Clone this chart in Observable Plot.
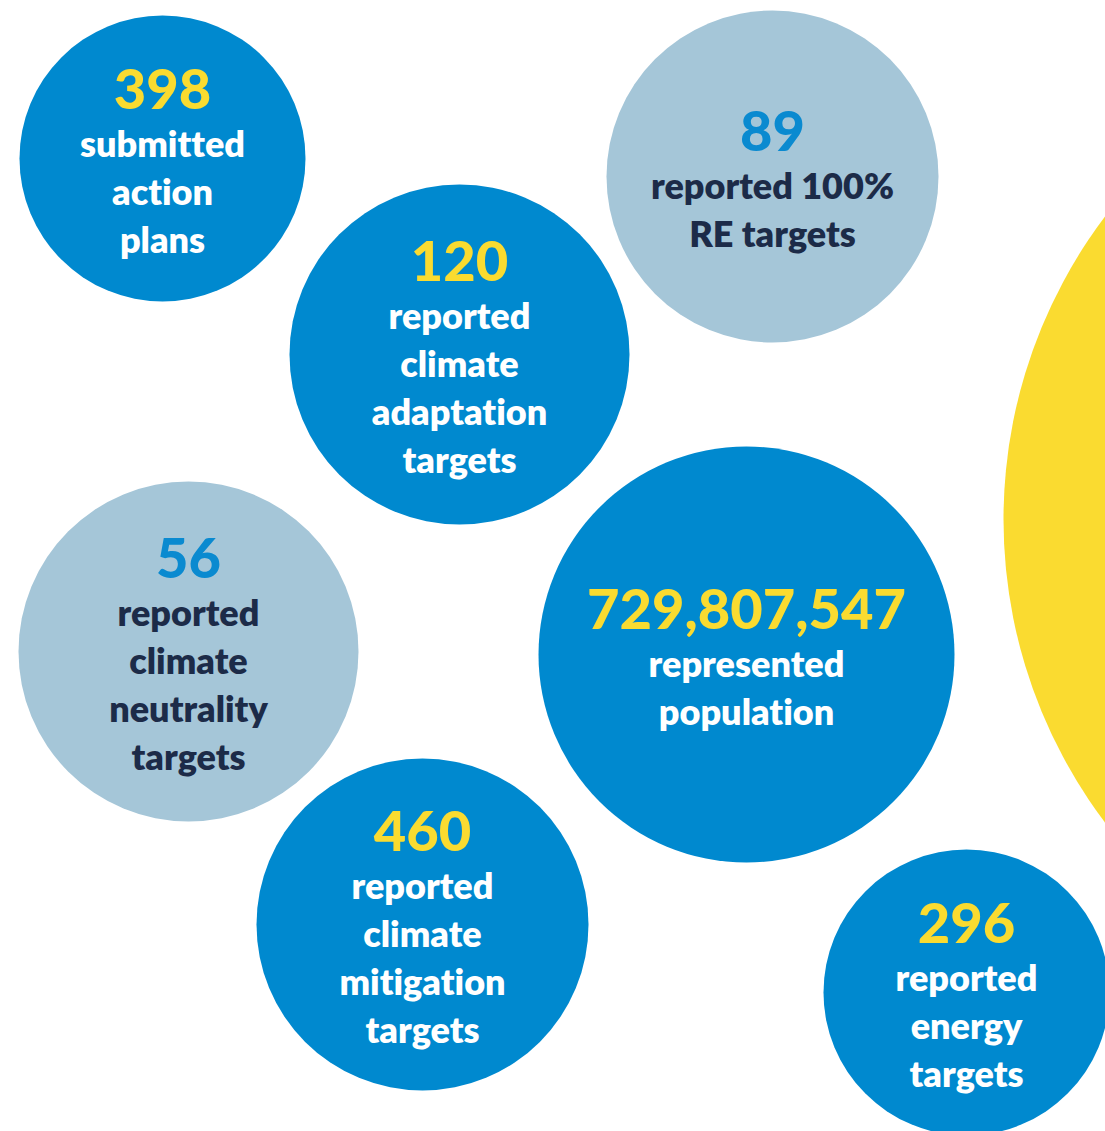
<!DOCTYPE html>
<html>
<head>
<meta charset="utf-8">
<script src="https://cdn.jsdelivr.net/npm/d3@7"></script>
<script src="https://cdn.jsdelivr.net/npm/@observablehq/plot@0.6"></script>
<style>
  html, body { margin: 0; padding: 0; background: #ffffff; }
  #chart svg { display: block; }
  #chart svg text { font-variant-ligatures: none; font-feature-settings: "liga" 0, "clig" 0; }
</style>
</head>
<body>
<div id="chart"></div>
<script>
// ---- data ----
const figures = ["398", "89", "120", "", "56", "729,807,547", "460", "296"];
const descriptions = [
  ["submitted", "action", "plans"],
  ["reported 100%", "RE targets"],
  ["reported", "climate", "adaptation", "targets"],
  [],
  ["reported", "climate", "neutrality", "targets"],
  ["represented", "population"],
  ["reported", "climate", "mitigation", "targets"],
  ["reported", "energy", "targets"]
];
const tones = ["dark", "light", "dark", "accent", "light", "dark", "dark", "dark"];

// ---- layout (bubble centres and radii, in page pixels) ----
const bubbleX = [162, 772, 459, 1506, 188, 746, 422, 966];
const bubbleY = [158, 176, 354, 519, 651, 654, 924, 992];
const bubbleR = [143, 166, 170, 503, 170, 208, 166, 143];

// ---- styles ----
const fillByTone = {dark: "#0089cf", light: "#a5c6d8", accent: "#fadb30"};
const numberColorByTone = {dark: "#fadb30", light: "#0a8ad0", accent: "#0089cf"};
const textColorByTone = {dark: "#ffffff", light: "#1c2b48", accent: "#1c2b48"};

const W = 1105, H = 1131;

const bubbles = figures.map((f, i) => ({
  figure: f, lines: descriptions[i], tone: tones[i],
  x: bubbleX[i], y: bubbleY[i], r: bubbleR[i]
}));

const blockTop = b => b.y + 8 - (54 + 48 * (b.lines.length - 1)) / 2;
const numberRows = bubbles.filter(b => b.figure).map(b => ({
  text: b.figure, tone: b.tone, x: b.x, y: blockTop(b)
}));
const lineRows = bubbles.flatMap(b =>
  b.lines.map((t, j) => ({text: t, tone: b.tone, x: b.x, y: blockTop(b) + 54 + 48 * j}))
);

const plot = Plot.plot({
  width: W, height: H,
  margin: 0,
  x: {domain: [0, W], range: [0, W], axis: null},
  y: {domain: [0, H], range: [0, H], axis: null},
  r: {type: "identity"},
  style: {fontFamily: "Lato, 'Open Sans', sans-serif", background: "#ffffff"},
  marks: [
    Plot.dot(bubbles, {x: "x", y: "y", r: "r", fill: d => fillByTone[d.tone], stroke: null}),
    Plot.text(numberRows, {
      x: "x", y: "y", text: "text", fill: d => numberColorByTone[d.tone],
      fontSize: 56, fontWeight: 900, lineAnchor: "middle", textAnchor: "middle"
    }),
    Plot.text(lineRows, {
      x: "x", y: "y", text: "text", fill: d => textColorByTone[d.tone],
      fontSize: 36, fontWeight: 800, lineAnchor: "middle", textAnchor: "middle"
    })
  ]
});
document.getElementById("chart").appendChild(plot);
</script>
</body>
</html>
